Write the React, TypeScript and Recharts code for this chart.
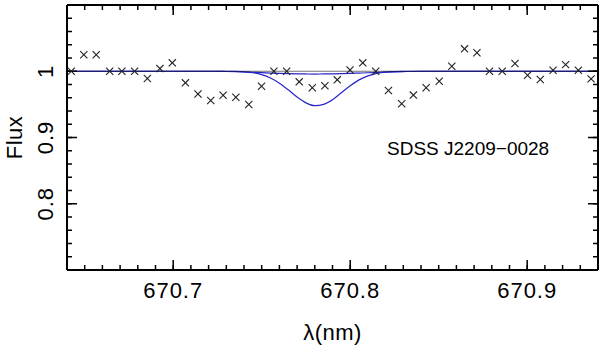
import React from "react";
import {
  ComposedChart,
  Line,
  Scatter,
  XAxis,
  YAxis,
} from "recharts";

// Observed spectrum around Li I 670.8 nm (crosses)
const OBS_WAVE = [
  670.6424, 670.6495, 670.6565, 670.6641, 670.671, 670.6782, 670.6854, 670.6925,
  670.6995, 670.7069, 670.714, 670.7212, 670.7282, 670.7354, 670.7427, 670.7499,
  670.7569, 670.7641, 670.7712, 670.7786, 670.7857, 670.7927, 670.7999, 670.8071,
  670.8144, 670.8216, 670.8291, 670.8357, 670.8429, 670.8503, 670.8574, 670.8646,
  670.8716, 670.8787, 670.8859, 670.8931, 670.9002, 670.9074, 670.9146, 670.9217,
  670.9289, 670.9361,
];
const OBS_FLUX = [
  1.0, 1.025, 1.025, 1.0, 1.0, 1.0, 0.989, 1.004,
  1.0127, 0.9825, 0.9656, 0.9558, 0.9638, 0.9608, 0.9498, 0.9774,
  1.0, 1.0, 0.984, 0.975, 0.978, 0.987, 1.002, 1.0127,
  1.0, 0.971, 0.951, 0.964, 0.975, 0.985, 1.0075, 1.0338,
  1.0278, 1.0, 1.0, 1.0116, 0.994, 0.9875, 1.0015, 1.01,
  1.0015, 0.9885,
];

// synthetic profiles
const MODEL_WAVE = [
  670.64, 670.72, 670.73, 670.735, 670.74, 670.745, 670.75, 670.755, 670.76,
  670.765, 670.77, 670.775, 670.78, 670.785, 670.79, 670.795, 670.8, 670.805,
  670.81, 670.815, 670.82, 670.83, 670.84, 670.94,
];
const MODEL_STRONG = [
  1.0, 1.0, 0.9999, 0.9997, 0.9991, 0.9977, 0.9949, 0.9898, 0.982,
  0.972, 0.961, 0.9523, 0.948, 0.95, 0.957, 0.9676, 0.978, 0.987,
  0.993, 0.9968, 0.9987, 0.9998, 1.0, 1.0,
];
const MODEL_WEAK = [
  1.0, 1.0, 0.9996, 0.9993, 0.9989, 0.9984, 0.9979, 0.9973, 0.9968,
  0.9964, 0.9961, 0.9959, 0.9958, 0.9959, 0.996, 0.9963, 0.9967, 0.9972,
  0.9977, 0.9982, 0.9987, 0.9995, 1.0, 1.0,
];
const CONT_WAVE = [670.64, 670.94];
const CONT_FLUX = [1.0, 1.0];

const X_MINOR = [
  670.65, 670.66, 670.67, 670.68, 670.69, 670.7, 670.71, 670.72, 670.73, 670.74,
  670.75, 670.76, 670.77, 670.78, 670.79, 670.8, 670.81, 670.82, 670.83, 670.84,
  670.85, 670.86, 670.87, 670.88, 670.89, 670.9, 670.91, 670.92, 670.93,
];
const X_MAJOR = [670.7, 670.8, 670.9];
const X_MAJOR_LABELS = ["670.7", "670.8", "670.9"];
const Y_MINOR = [
  0.72, 0.74, 0.76, 0.78, 0.8, 0.82, 0.84, 0.86, 0.88, 0.9, 0.92, 0.94, 0.96,
  0.98, 1.0, 1.02, 1.04, 1.06, 1.08,
];
const Y_MAJOR = [0.8, 0.9, 1.0];
const Y_MAJOR_LABELS = ["0.8", "0.9", "1"];

const X_DOMAIN: [number, number] = [670.64, 670.94];
const Y_DOMAIN: [number, number] = [0.7, 1.1];
const STAR = "SDSS J2209\u22120028";

const obs = OBS_WAVE.map((x, i) => ({ x, y: OBS_FLUX[i] }));
const strong = MODEL_WAVE.map((x, i) => ({ x, y: MODEL_STRONG[i] }));
const weak = MODEL_WAVE.map((x, i) => ({ x, y: MODEL_WEAK[i] }));
const cont = CONT_WAVE.map((x, i) => ({ x, y: CONT_FLUX[i] }));

const FONT = "'Liberation Sans', Arial, Helvetica, sans-serif";

function labelOf(majors: number[], labels: string[], v: number) {
  const i = majors.findIndex((m) => Math.abs(m - v) < 1e-6);
  return i >= 0 ? labels[i] : "";
}

function XLabel(p: any) {
  return (
    <text x={p.x} y={298} textAnchor="middle" fontSize={22} letterSpacing={1} fontFamily={FONT} fill="#000">
      {labelOf(X_MAJOR, X_MAJOR_LABELS, p.payload.value)}
    </text>
  );
}

function YLabel(p: any) {
  return (
    <text
      x={53}
      y={p.y}
      transform={`rotate(-90, 53, ${p.y})`}
      textAnchor="middle"
      fontSize={22}
      letterSpacing={1}
      fontFamily={FONT}
      fill="#000"
    >
      {labelOf(Y_MAJOR, Y_MAJOR_LABELS, p.payload.value)}
    </text>
  );
}

function Empty() {
  return <g />;
}

function XCross(p: any) {
  const { cx, cy } = p;
  const r = 3.6;
  return (
    <g stroke="#222" strokeWidth={1.1}>
      <line x1={cx - r} y1={cy - r} x2={cx + r} y2={cy + r} />
      <line x1={cx - r} y1={cy + r} x2={cx + r} y2={cy - r} />
    </g>
  );
}

const frame = { stroke: "#000", strokeWidth: 2 };
const tickLine = { stroke: "#000", strokeWidth: 1.5 };

// Inward ticks on all four sides. Each side has two 1px axes: one with the long
// major ticks (and the labels, placed by hand), one with the short minor ticks
// that also draws the frame. Both are 1px, so their stacking order hardly matters.
export default function App() {
  return (
    <div style={{ position: "absolute", left: 0, top: 0 }}>
      <ComposedChart width={600} height={348} margin={{ top: 3, right: 0, left: 65, bottom: 76 }}>
        {/* bottom */}
        <XAxis
          xAxisId="b2"
          dataKey="x"
          type="number"
          domain={X_DOMAIN}
          ticks={X_MAJOR}
          interval={0}
          height={1}
          stroke="#000"
          tickSize={-11}
          tickMargin={0}
          tickLine={tickLine}
          axisLine={false}
          tick={(p: any) => <XLabel {...p} />}
          label={{
            content: (lp: any) => {
              const vb = lp.viewBox;
              return (
                <text x={vb.x + vb.width / 2} y={340} textAnchor="middle" fontSize={22} letterSpacing={0.5} fontFamily={FONT} fill="#000">
                  λ(nm)
                </text>
              );
            },
          }}
        />
        <XAxis xAxisId="b1" dataKey="x" type="number" domain={X_DOMAIN} ticks={X_MINOR} interval={0}
          height={1} stroke="#000" tickSize={-5} tickLine={tickLine} axisLine={frame} tick={<Empty />} />

        {/* top */}
        <XAxis xAxisId="t2" dataKey="x" orientation="top" type="number" domain={X_DOMAIN} ticks={X_MAJOR} interval={0}
          height={1} stroke="#000" tickSize={-11} tickLine={tickLine} axisLine={false} tick={<Empty />} />
        <XAxis xAxisId="t1" dataKey="x" orientation="top" type="number" domain={X_DOMAIN} ticks={X_MINOR} interval={0}
          height={1} stroke="#000" tickSize={-5} tickLine={tickLine} axisLine={frame} tick={<Empty />} />

        {/* left */}
        <YAxis
          yAxisId="l2"
          dataKey="y"
          type="number"
          domain={Y_DOMAIN}
          ticks={Y_MAJOR}
          interval={0}
          width={1}
          stroke="#000"
          tickSize={-11}
          tickMargin={0}
          tickLine={tickLine}
          axisLine={false}
          tick={(p: any) => <YLabel {...p} />}
          label={{
            content: (lp: any) => {
              const vb = lp.viewBox;
              const cy = vb.y + vb.height / 2;
              return (
                <text x={22} y={cy} transform={`rotate(-90, 22, ${cy})`} textAnchor="middle" fontSize={22} letterSpacing={0.5} fontFamily={FONT} fill="#000">
                  Flux
                </text>
              );
            },
          }}
        />
        <YAxis yAxisId="l1" dataKey="y" type="number" domain={Y_DOMAIN} ticks={Y_MINOR} interval={0}
          width={1} stroke="#000" tickSize={-5} tickLine={tickLine} axisLine={frame} tick={<Empty />} />

        {/* right */}
        <YAxis
          yAxisId="r2"
          dataKey="y"
          orientation="right"
          type="number"
          domain={Y_DOMAIN}
          ticks={Y_MAJOR}
          interval={0}
          width={1}
          stroke="#000"
          tickSize={-11}
          tickLine={tickLine}
          axisLine={false}
          tick={<Empty />}
          label={{
            content: () => (
              <text x={387} y={155} fontSize={19} fontFamily={FONT} fill="#000">
                {STAR}
              </text>
            ),
          }}
        />
        <YAxis yAxisId="r1" dataKey="y" orientation="right" type="number" domain={Y_DOMAIN} ticks={Y_MINOR} interval={0}
          width={1} stroke="#000" tickSize={-5} tickLine={tickLine} axisLine={frame} tick={<Empty />} />

        {/* invisible series so the tick-only axes get built */}
        <Line xAxisId="b2" yAxisId="l2" data={cont} dataKey="y" stroke="none" dot={false} isAnimationActive={false} />
        <Line xAxisId="t1" yAxisId="r1" data={cont} dataKey="y" stroke="none" dot={false} isAnimationActive={false} />
        <Line xAxisId="t2" yAxisId="r2" data={cont} dataKey="y" stroke="none" dot={false} isAnimationActive={false} />

        <Line
          xAxisId="b1"
          yAxisId="l1"
          data={strong}
          dataKey="y"
          type="monotone"
          stroke="#2626c8"
          strokeWidth={1.2}
          dot={false}
          isAnimationActive={false}
        />
        <Line
          xAxisId="b1"
          yAxisId="l1"
          data={weak}
          dataKey="y"
          type="monotone"
          stroke="#2626c8"
          strokeWidth={1.2}
          dot={false}
          isAnimationActive={false}
        />
        <Line
          xAxisId="b1"
          yAxisId="l1"
          data={cont}
          dataKey="y"
          type="linear"
          stroke="#000"
          strokeOpacity={0.55}
          strokeWidth={1}
          dot={false}
          isAnimationActive={false}
        />
        <Scatter
          xAxisId="b1"
          yAxisId="l1"
          data={obs}
          dataKey="y"
          shape={(p: any) => <XCross {...p} />}
          isAnimationActive={false}
        />
      </ComposedChart>
    </div>
  );
}
